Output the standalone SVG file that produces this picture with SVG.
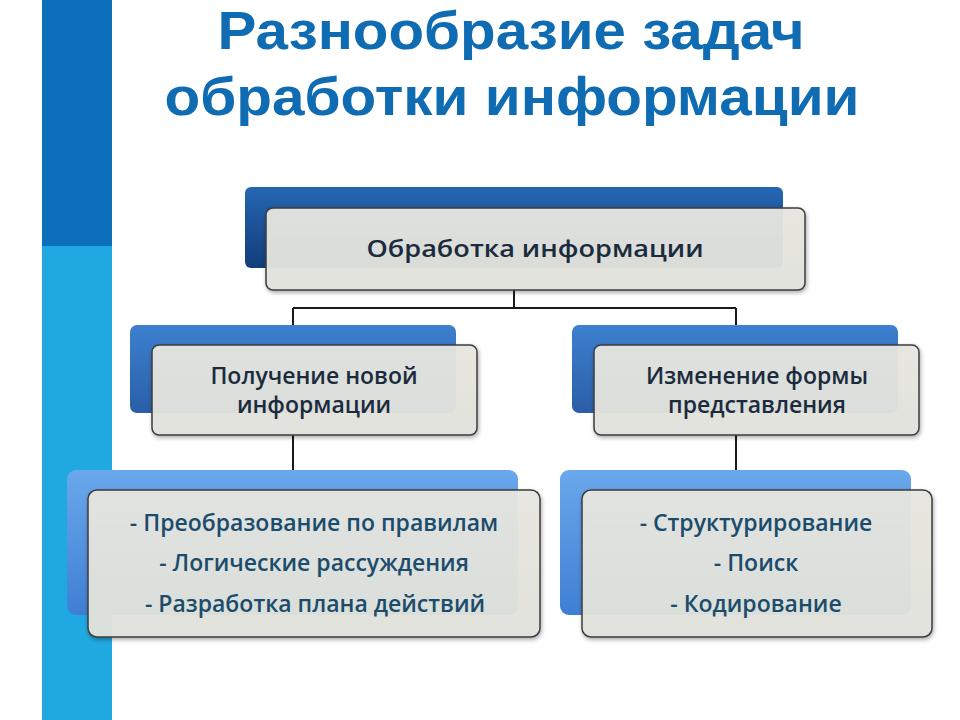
<svg xmlns="http://www.w3.org/2000/svg" width="960" height="720" viewBox="0 0 960 720">
<defs>
<linearGradient id="gTop" x1="0" y1="0" x2="0" y2="1"><stop offset="0" stop-color="#2566b3"/><stop offset="1" stop-color="#123d7a"/></linearGradient>
<linearGradient id="gMid" x1="0" y1="0" x2="0" y2="1"><stop offset="0" stop-color="#3d80cf"/><stop offset="1" stop-color="#2a5ea8"/></linearGradient>
<linearGradient id="gBot" x1="0" y1="0" x2="0" y2="1"><stop offset="0" stop-color="#6aa8ec"/><stop offset="1" stop-color="#3f7fd3"/></linearGradient>
<linearGradient id="gFront" x1="0" y1="0" x2="0" y2="1"><stop offset="0" stop-color="#e8e8e2" stop-opacity="0.94"/><stop offset="1" stop-color="#e3e4dc" stop-opacity="0.94"/></linearGradient>
<filter id="sh" x="-10%" y="-10%" width="120%" height="130%"><feDropShadow dx="1" dy="2" stdDeviation="2" flood-color="#000" flood-opacity="0.35"/></filter>
</defs>
<style>
.front{fill:url(#gFront);stroke:#3c3c3c;stroke-width:1.5;filter:url(#sh)}
.title{font-family:"Liberation Sans",Arial,sans-serif;font-weight:bold;font-size:53px;fill:#0f6cb2;text-anchor:middle}
.lbl{font-family:"Open Sans","DejaVu Sans",sans-serif;font-weight:600;font-size:23px;fill:#1b2b3d;text-anchor:middle}
.item{font-family:"Open Sans","DejaVu Sans",sans-serif;font-weight:600;font-size:23px;fill:#1b4c6c;text-anchor:middle}
.conn{stroke:#1a1a1a;stroke-width:2;fill:none}
</style>
<rect x="42" y="0" width="70" height="246" fill="#0b6fbb"/>
<rect x="42" y="246" width="70" height="474" fill="#20a8e0"/>
<text class="title" x="511" y="49" textLength="587" lengthAdjust="spacingAndGlyphs">Разнообразие задач</text>
<text class="title" x="512" y="115" font-size="55" textLength="695" lengthAdjust="spacingAndGlyphs">обработки информации</text>
<g id="connectors">
<path class="conn" d="M514 290V308M293 308H736M293 308V325M736 308V325M293 435V470M736 435V470"/>
</g>
<g id="n-root">
<rect x="245" y="187" width="538" height="81" rx="6" fill="url(#gTop)"/>
<rect class="front" x="266" y="208" width="539" height="82" rx="7"/>
<text class="lbl" x="535" y="257" font-size="27" textLength="337" lengthAdjust="spacingAndGlyphs">Обработка информации</text>
</g>
<g id="n-new">
<rect x="130" y="325" width="326" height="88" rx="7" fill="url(#gMid)"/>
<rect class="front" x="152" y="345" width="325" height="90" rx="7"/>
<text class="lbl" x="314" y="384">Получение новой</text>
<text class="lbl" x="314" y="413">информации</text>
</g>
<g id="n-form">
<rect x="572" y="325" width="326" height="88" rx="7" fill="url(#gMid)"/>
<rect class="front" x="594" y="345" width="325" height="90" rx="7"/>
<text class="lbl" x="757" y="384">Изменение формы</text>
<text class="lbl" x="757" y="413">представления</text>
</g>
<g id="n-left-items">
<rect x="67" y="470" width="451" height="145" rx="9" fill="url(#gBot)"/>
<rect class="front" x="88" y="490" width="452" height="147" rx="9"/>
<text class="item" x="314" y="531">- Преобразование по правилам</text>
<text class="item" x="314" y="571">- Логические рассуждения</text>
<text class="item" x="315" y="612">- Разработка плана действий</text>
</g>
<g id="n-right-items">
<rect x="560" y="470" width="351" height="145" rx="9" fill="url(#gBot)"/>
<rect class="front" x="582" y="490" width="350" height="147" rx="9"/>
<text class="item" x="756" y="531">- Структурирование</text>
<text class="item" x="756" y="571">- Поиск</text>
<text class="item" x="756" y="612">- Кодирование</text>
</g>
</svg>
